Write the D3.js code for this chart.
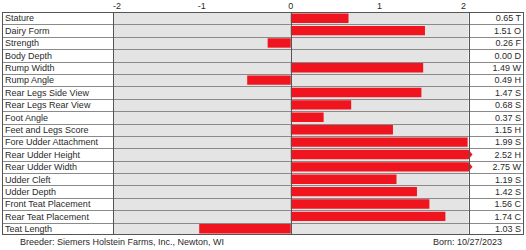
<!DOCTYPE html>
<html>
<head>
<meta charset="utf-8">
<script src="https://cdn.jsdelivr.net/npm/d3@7"></script>
<style>
  body { margin: 0; background: #fff; }
  text { font-family: "Liberation Sans", Arial, sans-serif; fill: #2a2a2a; }
</style>
</head>
<body>
<svg id="chart" width="526" height="250"></svg>
<script>
// trait names, signed values (bar direction) and printed value labels
const traits = ["Stature", "Dairy Form", "Strength", "Body Depth", "Rump Width", "Rump Angle",
  "Rear Legs Side View", "Rear Legs Rear View", "Foot Angle", "Feet and Legs Score",
  "Fore Udder Attachment", "Rear Udder Height", "Rear Udder Width", "Udder Cleft",
  "Udder Depth", "Front Teat Placement", "Rear Teat Placement", "Teat Length"];
const values = [0.65, 1.51, -0.26, 0.00, 1.49, -0.49, 1.47, 0.68, 0.37, 1.15,
  1.99, 2.52, 2.75, 1.19, 1.42, 1.56, 1.74, -1.03];
const valueLabels = ["0.65 T", "1.51 O", "0.26 F", "0.00 D", "1.49 W", "0.49 H",
  "1.47 S", "0.68 S", "0.37 S", "1.15 H", "1.99 S", "2.52 H", "2.75 W", "1.19 S",
  "1.42 S", "1.56 C", "1.74 C", "1.03 S"];
const ticks = [-2, -1, 0, 1, 2];
const breeder = "Breeder:  Siemers Holstein Farms, Inc., Newton, WI";
const born = "Born:  10/27/2023";

const svg = d3.select("#chart");
const gridTop = 12, gridBottom = 235;
const left = 2, plotL = 113, plotR = 468.5, right = 524;
const fs = 9;

const x = d3.scaleLinear().domain([-2, 2]).range([plotL, plotR]);
const y = d3.scaleBand().domain(traits).range([gridTop, gridBottom]);

// gray plot background
svg.append("rect").attr("x", plotL).attr("y", gridTop)
  .attr("width", plotR - plotL).attr("height", gridBottom - gridTop).attr("fill", "#e4e4e4");

// bars
const barPad = 1.5;
svg.append("g").selectAll("path").data(traits).join("path")
  .attr("fill", "#f0141e")
  .attr("d", (d, i) => {
    const v = values[i];
    const y0 = y(d) + barPad, y1 = y(d) + y.bandwidth() - barPad;
    const capped = v > 2;
    const vx = x(Math.max(-2, Math.min(2, v)));
    const x0 = x(0);
    if (capped) {
      const ym = (y0 + y1) / 2;
      return `M${x0},${y0}H${vx}L${vx + 4},${ym}L${vx},${y1}H${x0}Z`;
    }
    return `M${Math.min(x0, vx)},${y0}H${Math.max(x0, vx)}V${y1}H${Math.min(x0, vx)}Z`;
  });

// horizontal row lines
const lines = svg.append("g").attr("stroke", "#8a8a8a").attr("stroke-width", 1);
traits.forEach((d, i) => {
  if (i === 0) return;
  lines.append("line").attr("x1", left).attr("x2", right)
    .attr("y1", Math.round(y(d)) + 0.5).attr("y2", Math.round(y(d)) + 0.5);
});

// frame and column borders
const frame = svg.append("g").attr("stroke", "#555").attr("stroke-width", 1).attr("fill", "none");
frame.append("rect").attr("x", left + 0.5).attr("y", gridTop + 0.5)
  .attr("width", right - left - 1).attr("height", gridBottom - gridTop - 1);
[plotL, x(0), plotR].forEach(px => {
  frame.append("line").attr("x1", Math.round(px) + 0.5).attr("x2", Math.round(px) + 0.5)
    .attr("y1", gridTop).attr("y2", gridBottom);
});

// tick labels
svg.append("g").selectAll("text").data(ticks).join("text")
  .attr("x", d => x(d) + (d === -2 ? 4 : d === 2 ? -5 : 0)).attr("y", 9)
  .attr("text-anchor", "middle").attr("font-size", fs)
  .text(d => d);

// trait labels
svg.append("g").selectAll("text").data(traits).join("text")
  .attr("x", 5).attr("y", d => y(d) + y.bandwidth() / 2 + 3.3)
  .attr("font-size", fs).text(d => d);

// value labels
svg.append("g").selectAll("text").data(valueLabels).join("text")
  .attr("x", 521).attr("y", (d, i) => y(traits[i]) + y.bandwidth() / 2 + 3.3)
  .attr("text-anchor", "end").attr("font-size", fs).text(d => d);

// footer
svg.append("text").attr("x", 20).attr("y", 245).attr("font-size", fs).text(breeder);
svg.append("text").attr("x", 433).attr("y", 245).attr("font-size", fs).text(born);
</script>
</body>
</html>
